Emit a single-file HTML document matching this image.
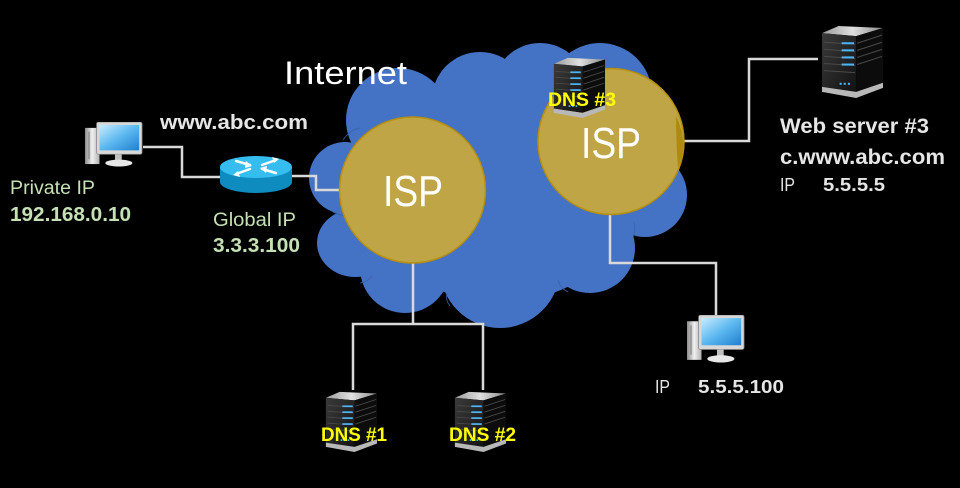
<!DOCTYPE html>
<html><head><meta charset="utf-8"><style>
html,body{margin:0;padding:0;background:#000;}
svg{display:block;}
text{font-family:"Liberation Sans",sans-serif;}
</style></head><body>
<svg width="960" height="488" viewBox="0 0 960 488" xmlns="http://www.w3.org/2000/svg">
<defs>
<linearGradient id="front" x1="0" y1="0" x2="1" y2="1"><stop offset="0" stop-color="#3a3a3a"/><stop offset="1" stop-color="#121212"/></linearGradient>
<linearGradient id="topf" x1="0" y1="0" x2="1" y2="0"><stop offset="0" stop-color="#9a9a9a"/><stop offset="0.5" stop-color="#e0e0e0"/><stop offset="1" stop-color="#8a8a8a"/></linearGradient>
<linearGradient id="screen" x1="0" y1="0" x2="1" y2="1"><stop offset="0" stop-color="#c8ecff"/><stop offset="0.5" stop-color="#5cb8f0"/><stop offset="1" stop-color="#1f7fd0"/></linearGradient>
<linearGradient id="tower" x1="0" y1="0" x2="1" y2="0"><stop offset="0" stop-color="#8c8c8c"/><stop offset="0.5" stop-color="#f0f0f0"/><stop offset="1" stop-color="#b0b0b0"/></linearGradient>
<symbol id="server" viewBox="0 0 60 72" preserveAspectRatio="none">
<polygon points="1,8 17,1 60,3 34,11" fill="url(#topf)"/>
<polygon points="1,8 34,11 34,66 1,61" fill="url(#front)"/>
<polygon points="34,11 60,3 60,57 34,66" fill="#0c0c0c"/>
<g stroke="#4a4a4a" stroke-width="1">
<line x1="3" y1="17" x2="33" y2="19"/><line x1="3" y1="24" x2="33" y2="26"/><line x1="3" y1="31" x2="33" y2="33"/><line x1="3" y1="38" x2="33" y2="40"/><line x1="3" y1="45" x2="33" y2="47"/>
<line x1="35" y1="18" x2="59" y2="10"/><line x1="35" y1="25" x2="59" y2="17"/><line x1="35" y1="32" x2="59" y2="24"/><line x1="35" y1="39" x2="59" y2="31"/>
</g>
<g fill="#4fb4f5"><rect x="20" y="17" width="12" height="2"/><rect x="20" y="24" width="12" height="2"/><rect x="20" y="31" width="12" height="2"/><rect x="20" y="38" width="12" height="2"/>
<rect x="18" y="57" width="2" height="2"/><rect x="22" y="57" width="2" height="2"/><rect x="26" y="57" width="2" height="2"/></g>
<polygon points="1,61 34,66 60,57 60,62 34,72 1,66" fill="#b8b8b8"/>
</symbol>
<symbol id="pc" viewBox="0 0 60 46" preserveAspectRatio="none">
<rect x="0" y="6" width="15" height="37" fill="url(#tower)"/>
<rect x="3" y="10" width="2" height="28" fill="#999"/>
<rect x="12" y="0" width="47" height="33" rx="2" fill="#d8d8d8" stroke="#888" stroke-width="0.8"/>
<rect x="15" y="3" width="41" height="26" fill="url(#screen)"/>
<rect x="31" y="33" width="7" height="6" fill="#c0c0c0"/>
<ellipse cx="35" cy="42" rx="14" ry="3.5" fill="#e8e8e8"/>
</symbol>
</defs>
<rect width="960" height="488" fill="#000"/>

<!-- cloud -->
<g fill="#4472C4">
<ellipse cx="500" cy="190" rx="135" ry="112"/>
<circle cx="398" cy="120" r="52"/>
<circle cx="480" cy="100" r="48"/>
<circle cx="540" cy="90" r="47"/>
<circle cx="600" cy="95" r="52"/>
<circle cx="645" cy="195" r="42"/>
<circle cx="590" cy="248" r="45"/>
<circle cx="500" cy="268" r="60"/>
<circle cx="405" cy="268" r="45"/>
<ellipse cx="355" cy="243" rx="38" ry="34"/>
<circle cx="345" cy="178" r="36"/>
<circle cx="620" cy="150" r="50"/>
</g>
<g stroke="#3a62a8" stroke-width="1" fill="none" opacity="0.8">
<path d="M343,140 Q350,130 360,128"/>
<path d="M333,212 Q345,218 355,215"/>
<path d="M360,283 Q368,282 372,276"/>
<path d="M447,293 Q445,300 450,306"/>
<path d="M558,280 Q560,288 568,292"/>
<path d="M633,237 Q636,230 634,222"/>
</g>

<!-- connectors -->
<g stroke="#d9d9d9" stroke-width="2.5" fill="none">
<polyline points="143,147 182,147 182,177 222,177"/>
<polyline points="292,176 316,176 316,190 345,190"/>
<polyline points="413,255 413,324"/>
<polyline points="353,390 353,324 483,324 483,390"/>
<polyline points="680,141 749,141 749,59 818,59"/>
<polyline points="610,210 610,263 716,263 716,315"/>
</g>

<!-- ISP circles -->
<circle cx="412.5" cy="190" r="73" fill="#BFA545" stroke="#B88F0C" stroke-width="1.5"/>
<circle cx="611" cy="141.5" r="73" fill="#BFA545" stroke="#B88F0C" stroke-width="1.5"/>
<path d="M676,116 Q689,142 678,168 Q676,142 676,116 Z" fill="#B08A10"/>
<text x="383" y="206" font-size="44" fill="#fff" textLength="60" lengthAdjust="spacingAndGlyphs">ISP</text>
<text x="581" y="158" font-size="44" fill="#fff" textLength="60" lengthAdjust="spacingAndGlyphs">ISP</text>

<text x="284" y="84" font-size="32" fill="#fff" textLength="123" lengthAdjust="spacingAndGlyphs">Internet</text>

<!-- router -->
<rect x="220" y="167" width="72" height="15" fill="#0f8cbf"/>
<ellipse cx="256" cy="182" rx="36" ry="11" fill="#0f8cbf"/>
<ellipse cx="256" cy="167" rx="36" ry="11" fill="#35bdf0"/>
<g stroke="#fff" stroke-width="2.5" fill="none" stroke-linecap="round">
<line x1="236" y1="161" x2="250" y2="165"/><line x1="262" y1="169" x2="276" y2="173"/>
<line x1="276" y1="160" x2="262" y2="165"/><line x1="250" y1="169" x2="236" y2="174"/>
</g>
<g fill="#fff">
<polygon points="252,166 246,161 245,168"/><polygon points="260,168 266,173 267,166"/>
<polygon points="279,159 272,157 274,163"/><polygon points="233,175 240,177 238,171"/>
</g>

<!-- PCs -->
<use href="#pc" x="85" y="122" width="58" height="45"/>
<use href="#pc" x="687" y="315" width="58" height="48"/>

<!-- servers -->
<use href="#server" x="325" y="391" width="52" height="61"/>
<use href="#server" x="454" y="391" width="52" height="61"/>
<use href="#server" x="553" y="57" width="52" height="61"/>
<use href="#server" x="821" y="25" width="62" height="73"/>

<!-- labels -->
<g font-weight="bold" fill="#ffff00" font-size="19">
<text x="321" y="441" textLength="66" lengthAdjust="spacingAndGlyphs">DNS #1</text>
<text x="449" y="441" textLength="67" lengthAdjust="spacingAndGlyphs">DNS #2</text>
<text x="548" y="106" textLength="68" lengthAdjust="spacingAndGlyphs">DNS #3</text>
</g>
<text x="160" y="129" font-size="20" font-weight="bold" fill="#e6e6e6" textLength="148" lengthAdjust="spacingAndGlyphs">www.abc.com</text>
<text x="10" y="194" font-size="19" fill="#c5e0b4" textLength="85" lengthAdjust="spacingAndGlyphs">Private IP</text>
<text x="10" y="221" font-size="20" font-weight="bold" fill="#c5e0b4" textLength="121" lengthAdjust="spacingAndGlyphs">192.168.0.10</text>
<text x="213" y="226" font-size="19" fill="#c5e0b4" textLength="83" lengthAdjust="spacingAndGlyphs">Global IP</text>
<text x="213" y="252" font-size="20" font-weight="bold" fill="#c5e0b4" textLength="87" lengthAdjust="spacingAndGlyphs">3.3.3.100</text>
<text x="780" y="133" font-size="21" font-weight="bold" fill="#e6e6e6" textLength="149" lengthAdjust="spacingAndGlyphs">Web server #3</text>
<text x="780" y="164" font-size="21" font-weight="bold" fill="#e6e6e6" textLength="165" lengthAdjust="spacingAndGlyphs">c.www.abc.com</text>
<text x="780" y="191" font-size="18" fill="#e6e6e6" textLength="15" lengthAdjust="spacingAndGlyphs">IP</text>
<text x="823" y="191" font-size="18" font-weight="bold" fill="#e6e6e6" textLength="62" lengthAdjust="spacingAndGlyphs">5.5.5.5</text>
<text x="655" y="393" font-size="18" fill="#e6e6e6" textLength="15" lengthAdjust="spacingAndGlyphs">IP</text>
<text x="698" y="393" font-size="18" font-weight="bold" fill="#e6e6e6" textLength="86" lengthAdjust="spacingAndGlyphs">5.5.5.100</text>
</svg>
</body></html>
